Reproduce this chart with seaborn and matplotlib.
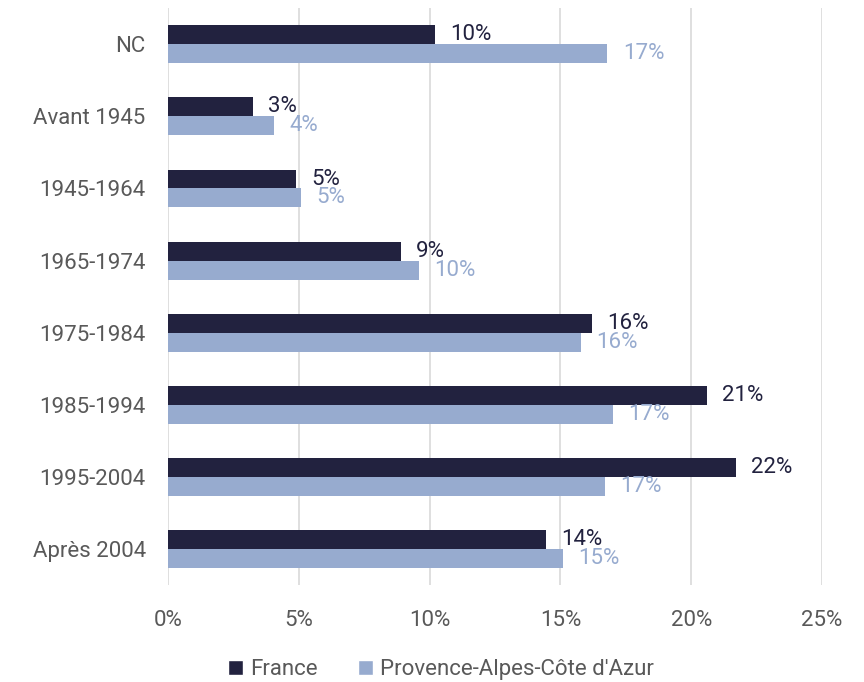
import pandas as pd
import seaborn as sns
import matplotlib
matplotlib.use("Agg")
import matplotlib.pyplot as plt
from matplotlib.patches import Patch

# Periode de construction du logement - part des residences principales
periods = ["NC", "Avant 1945", "1945-1964", "1965-1974",
           "1975-1984", "1985-1994", "1995-2004", "Après 2004"]
france = [10.2, 3.25, 4.9, 8.9, 16.2, 20.6, 21.7, 14.45]
paca = [16.8, 4.05, 5.1, 9.6, 15.8, 17.0, 16.7, 15.1]
series = ["France", "Provence-Alpes-Côte d'Azur"]
colors = ["#22223f", "#97abcf"]

df = pd.DataFrame({
    "Période": periods * 2,
    "Part": france + paca,
    "Zone": [series[0]] * len(periods) + [series[1]] * len(periods),
})

sns.set_theme(style="white")
plt.rcParams["font.family"] = ["Roboto", "DejaVu Sans"]

fig = plt.figure(figsize=(8.64, 6.82), dpi=100)
ax = fig.add_axes([0.1944, 0.142, 0.757, 0.846])

sns.barplot(data=df, y="Période", x="Part", hue="Zone", orient="h",
            palette=colors, width=0.525, order=periods, hue_order=series,
            ax=ax, legend=False, saturation=1, linewidth=0)

for container, col in zip(ax.containers, colors):
    ax.bar_label(container, labels=[f"{v:.0f}%" for v in container.datavalues],
                 padding=11, color=col, fontsize=16)

ax.set_xlim(0, 25)
ax.set_xticks(range(0, 26, 5))
ax.set_xticklabels([f"{t}%" for t in range(0, 26, 5)])
ax.tick_params(axis="both", labelsize=16, colors="#595959", length=0)
ax.tick_params(axis="x", pad=18)
ax.tick_params(axis="y", pad=16)
ax.xaxis.grid(True, color="#d9d9d9", linewidth=1.2)
ax.set_axisbelow(True)
ax.set_xlabel("")
ax.set_ylabel("")
for s in ax.spines.values():
    s.set_visible(False)

handles = [Patch(facecolor=c, label=l) for c, l in zip(colors, series)]
fig.legend(handles=handles, loc="center", bbox_to_anchor=(0.51, 0.018),
           ncol=2, frameon=False, fontsize=16, handlelength=0.7,
           handleheight=0.7, handletextpad=0.3, columnspacing=1.8,
           labelcolor="#595959")

fig.savefig("out.png", dpi=100)
